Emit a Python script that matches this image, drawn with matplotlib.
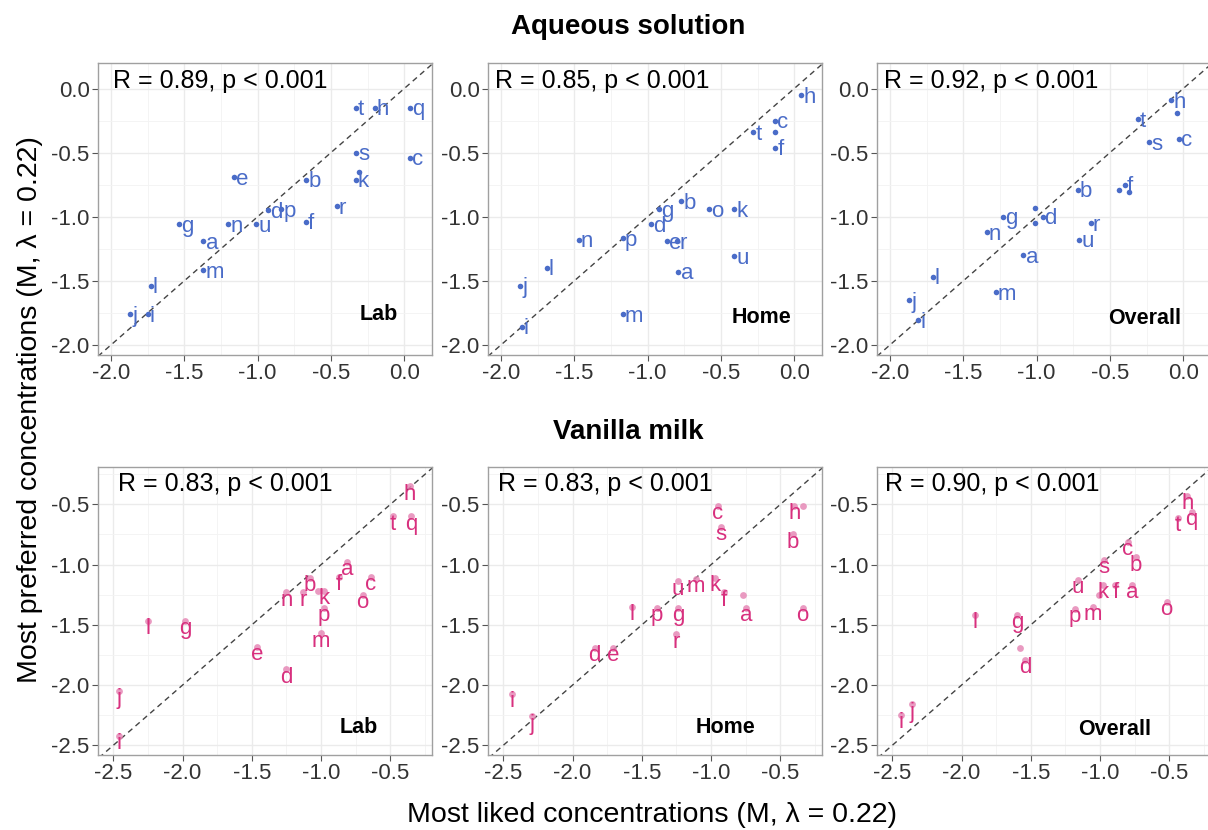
import numpy as np
import matplotlib
matplotlib.use('Agg')
import matplotlib.pyplot as plt
from matplotlib.ticker import MultipleLocator

plt.rcParams['font.family'] = ['Liberation Sans', 'DejaVu Sans']
plt.rcParams['axes.unicode_minus'] = False

# Aqueous solution - Lab
aq_lab_lbl = ['t', 'h', 'q', 's', 'c', 'k', '', 'e', 'b', 'r', 'd', 'p', 'f', 'g', 'n', 'u', 'a', 'm', 'l', 'j', 'i']
aq_lab_x = [-0.33, -0.20, 0.04, -0.33, 0.04, -0.33, -0.31, -1.16, -0.67, -0.46, -0.93, -0.84, -0.67, -1.54, -1.20, -1.01, -1.37, -1.37, -1.73, -1.87, -1.75]
aq_lab_y = [-0.15, -0.15, -0.15, -0.50, -0.54, -0.71, -0.65, -0.69, -0.71, -0.92, -0.95, -0.94, -1.04, -1.06, -1.06, -1.06, -1.19, -1.42, -1.54, -1.76, -1.76]

# Aqueous solution - Home
aq_home_lbl = ['h', 'c', '', 't', 'f', 'b', 'o', 'k', 'g', 'd', 'e', 'r', 'n', 'p', 'u', 'a', 'l', 'j', 'm', 'i']
aq_home_x = [0.05, -0.13, -0.13, -0.28, -0.13, -0.77, -0.58, -0.41, -0.92, -0.98, -0.87, -0.80, -1.47, -1.17, -0.41, -0.79, -1.69, -1.87, -1.17, -1.86]
aq_home_y = [-0.05, -0.25, -0.34, -0.34, -0.46, -0.88, -0.94, -0.94, -0.94, -1.06, -1.19, -1.19, -1.18, -1.17, -1.31, -1.43, -1.40, -1.54, -1.76, -1.86]

# Aqueous solution - Overall
aq_all_lbl = ['h', '', 't', 's', 'c', 'b', 'f', '', '', 'd', '', '', 'g', 'r', 'n', 'u', 'a', 'l', 'm', 'j', 'i']
aq_all_x = [-0.08, -0.04, -0.31, -0.23, -0.03, -0.72, -0.40, -0.44, -0.37, -0.96, -1.01, -1.01, -1.23, -0.63, -1.34, -0.71, -1.09, -1.71, -1.28, -1.87, -1.81]
aq_all_y = [-0.09, -0.19, -0.24, -0.42, -0.39, -0.79, -0.75, -0.79, -0.81, -1.00, -0.93, -1.05, -1.00, -1.05, -1.12, -1.18, -1.30, -1.47, -1.59, -1.65, -1.81]

# Vanilla milk - Lab
vm_lab_lbl = ['h', 't', 'q', 'a', 'b', 'f', 'c', 'n', 'r', 'k', '', 'o', 'p', 'm', 'l', 'g', 'e', 'd', 'j', 'i']
vm_lab_x = [-0.36, -0.48, -0.35, -0.81, -1.08, -0.87, -0.64, -1.25, -1.13, -0.98, -1.02, -0.70, -0.98, -1.00, -2.25, -1.98, -1.46, -1.25, -2.46, -2.46]
vm_lab_y = [-0.35, -0.60, -0.60, -0.98, -1.11, -1.10, -1.10, -1.23, -1.23, -1.22, -1.22, -1.25, -1.36, -1.57, -1.47, -1.47, -1.68, -1.87, -2.05, -2.42]

# Vanilla milk - Home
vm_home_lbl = ['c', 's', 'h', '', 'b', 'u', 'm', 'k', 'f', '', 'a', 'o', 'l', 'p', 'g', 'r', 'd', 'e', 'i', 'j']
vm_home_x = [-0.95, -0.93, -0.40, -0.34, -0.41, -1.24, -1.11, -0.97, -0.91, -0.77, -0.75, -0.34, -1.57, -1.39, -1.24, -1.25, -1.84, -1.71, -2.44, -2.29]
vm_home_y = [-0.51, -0.69, -0.51, -0.51, -0.75, -1.14, -1.12, -1.11, -1.23, -1.25, -1.36, -1.36, -1.35, -1.36, -1.36, -1.58, -1.69, -1.69, -2.07, -2.26]

# Vanilla milk - Overall
vm_all_lbl = ['h', 'q', 't', 'c', 'b', 's', 'u', 'k', '', 'f', 'a', 'o', 'p', 'm', 'l', 'g', '', 'd', 'i', 'j']
vm_all_x = [-0.37, -0.34, -0.44, -0.80, -0.74, -0.97, -1.16, -0.98, -1.01, -0.89, -0.77, -0.52, -1.18, -1.05, -1.90, -1.60, -1.58, -1.54, -2.44, -2.36]
vm_all_y = [-0.43, -0.56, -0.61, -0.81, -0.94, -0.96, -1.13, -1.17, -1.25, -1.17, -1.17, -1.31, -1.37, -1.35, -1.42, -1.42, -1.69, -1.79, -2.25, -2.16]

r_text = ['R = 0.89, p < 0.001', 'R = 0.85, p < 0.001', 'R = 0.92, p < 0.001',
          'R = 0.83, p < 0.001', 'R = 0.83, p < 0.001', 'R = 0.90, p < 0.001']
setting = ['Lab', 'Home', 'Overall']

W, H = 1208, 830
fig = plt.figure(figsize=(W / 100, H / 100), dpi=100)

def box(l, t, r, b):
    return [l / W, 1 - b / H, (r - l) / W, (b - t) / H]

lefts = [98, 488, 877]
widths = 334

blue = '#4a6cc8'
pink_txt = '#d8307e'
pink_dot = '#e689b6'

panels = [
    (aq_lab_lbl, aq_lab_x, aq_lab_y), (aq_home_lbl, aq_home_x, aq_home_y), (aq_all_lbl, aq_all_x, aq_all_y),
    (vm_lab_lbl, vm_lab_x, vm_lab_y), (vm_home_lbl, vm_home_x, vm_home_y), (vm_all_lbl, vm_all_x, vm_all_y),
]
r_pos = [0.045, 0.02, 0.022, 0.06, 0.03, 0.025]
s_pos = [(0.84, 0.14), (0.82, 0.13), (0.80, 0.125), (0.78, 0.095), (0.71, 0.097), (0.71, 0.09)]

for i, (lbl, xs, ys) in enumerate(panels):
    row, col = divmod(i, 3)
    if row == 0:
        ax = fig.add_axes(box(lefts[col], 63, lefts[col] + widths, 355))
        lim_x, lim_y = (-2.09, 0.19), (-2.08, 0.20)
        ticks = np.arange(-2.0, 0.01, 0.5)
    else:
        ax = fig.add_axes(box(lefts[col], 467, lefts[col] + widths, 755))
        lim_x, lim_y = (-2.61, -0.20), (-2.58, -0.19)
        ticks = np.arange(-2.5, -0.49, 0.5)
    ax.set_xlim(lim_x)
    ax.set_ylim(lim_y)
    ax.set_xticks(ticks)
    ax.set_yticks(ticks)
    ax.xaxis.set_minor_locator(MultipleLocator(0.25))
    ax.yaxis.set_minor_locator(MultipleLocator(0.25))
    ax.set_xticklabels(['%.1f' % t for t in ticks])
    ax.set_yticklabels(['%.1f' % t for t in ticks])
    ax.grid(which='major', color='#ebebeb', lw=1.0)
    ax.grid(which='minor', color='#f3f3f3', lw=0.6)
    ax.set_axisbelow(True)
    ax.tick_params(which='major', labelsize=16, length=4, pad=2, color='#555555', labelcolor='#333333')
    ax.tick_params(which='minor', length=0)
    for sp in ax.spines.values():
        sp.set_color('#a0a0a0')
        sp.set_linewidth(1.0)

    lo = min(lim_x[0], lim_y[0]) - 0.1
    hi = max(lim_x[1], lim_y[1]) + 0.1
    ax.plot([lo, hi], [lo, hi], ls=(0, (4, 3)), color='#444444', lw=1.0, zorder=2)

    if row == 0:
        ax.scatter(xs, ys, s=16, color=blue, zorder=3, linewidths=0)
        for t, x, y in zip(lbl, xs, ys):
            ax.annotate(t, (x, y), xytext=(1.5, -1.5), textcoords='offset points',
                        ha='left', va='center', fontsize=16, color=blue, zorder=4)
    else:
        ax.scatter(xs, ys, s=24, color=pink_dot, alpha=0.85, zorder=3, linewidths=0)
        for t, x, y in zip(lbl, xs, ys):
            ax.annotate(t, (x, y), xytext=(0, 2), textcoords='offset points',
                        ha='center', va='top', fontsize=16, color=pink_txt, zorder=4)

    ax.text(r_pos[i], 0.94, r_text[i], transform=ax.transAxes, fontsize=18,
            ha='left', va='center', color='black')
    ax.text(s_pos[i][0], s_pos[i][1], setting[col], transform=ax.transAxes,
            fontsize=15.5, fontweight='bold', ha='center', va='center')

fig.text(628 / W, 1 - 27 / H, 'Aqueous solution', ha='center', va='center',
         fontsize=20, fontweight='bold')
fig.text(628 / W, 1 - 432 / H, 'Vanilla milk', ha='center', va='center',
         fontsize=20, fontweight='bold')
fig.text(30 / W, 1 - 410 / H, 'Most preferred concentrations (M, λ = 0.22)',
         rotation=90, ha='center', va='center', fontsize=20.5)
fig.text(652 / W, 1 - 815 / H, 'Most liked concentrations (M, λ = 0.22)',
         ha='center', va='center', fontsize=20.5)

fig.savefig('out.png', dpi=100)
